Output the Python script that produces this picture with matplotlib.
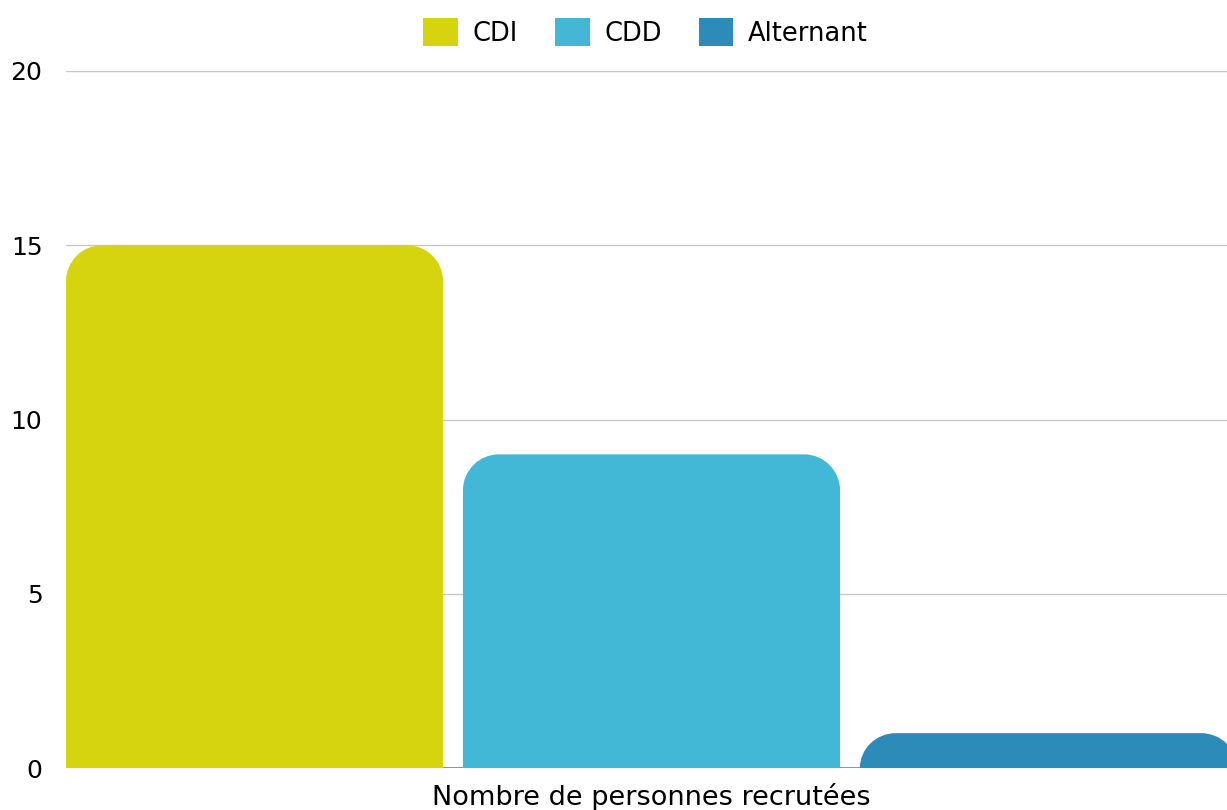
import numpy as np
import matplotlib
matplotlib.use('Agg')
import matplotlib.pyplot as plt
from matplotlib.path import Path
from matplotlib.patches import PathPatch, Patch

plt.rcParams['font.family'] = ['DejaVu Sans']

categories = ['CDI', 'CDD', 'Alternant']
values = [15, 9, 1]
colors = ['#D6D40E', '#42B7D6', '#2D8BBA']
group_label = 'Nombre de personnes recrutées'
yticks = [0, 5, 10, 15, 20]

fig = plt.figure(figsize=(12.27, 8.10), dpi=100)
ax = fig.add_axes([66 / 1227, 42 / 810, 1171 / 1227, 697 / 810])

n = len(values)
width = 0.95
offsets = np.arange(n) - (n - 1) / 2
ax.set_xlim(-n / 2 + (1 - width) / 2, n / 2 - (1 - width) / 2)
ax.set_ylim(0, 20)

# pixels per data unit, to get circular corners
p0 = ax.transData.transform((0, 0))
p1 = ax.transData.transform((1, 1))
pxx, pxy = p1[0] - p0[0], p1[1] - p0[1]
r_px = 36
k = 0.5523


def rounded_bar(x, h, color):
    x0, x1 = x - width / 2, x + width / 2
    rx = r_px / pxx
    ry = min(r_px / pxy, h)
    verts = [(x0, 0), (x0, h - ry),
             (x0, h - ry + k * ry), (x0 + rx - k * rx, h), (x0 + rx, h),
             (x1 - rx, h),
             (x1 - rx + k * rx, h), (x1, h - ry + k * ry), (x1, h - ry),
             (x1, 0), (x0, 0)]
    codes = [Path.MOVETO, Path.LINETO,
             Path.CURVE4, Path.CURVE4, Path.CURVE4,
             Path.LINETO,
             Path.CURVE4, Path.CURVE4, Path.CURVE4,
             Path.LINETO, Path.CLOSEPOLY]
    ax.add_patch(PathPatch(Path(verts, codes), facecolor=color, edgecolor='none', zorder=3))


for off, v, c in zip(offsets, values, colors):
    rounded_bar(off, v, c)

ax.set_yticks(yticks)
ax.set_xticks([])
for y in yticks[1:]:
    ax.axhline(y, color='#c8c8c8', linewidth=1, zorder=1)
ax.axhline(0, color='#808080', linewidth=1.2, zorder=2)
for s in ax.spines.values():
    s.set_visible(False)
ax.tick_params(axis='y', length=0, pad=17, labelsize=18, labelcolor='black')
ax.set_xlabel(group_label, fontsize=19.5, labelpad=11)

handles = [Patch(facecolor=c, edgecolor='none') for c in colors]
fig.legend(handles, categories, loc='center', bbox_to_anchor=(0.526, 0.96), ncol=3,
           frameon=False, fontsize=18.5, handlelength=1.36, handleheight=1.32,
           handletextpad=0.56, columnspacing=1.44)

fig.savefig('out.png', dpi=100)
